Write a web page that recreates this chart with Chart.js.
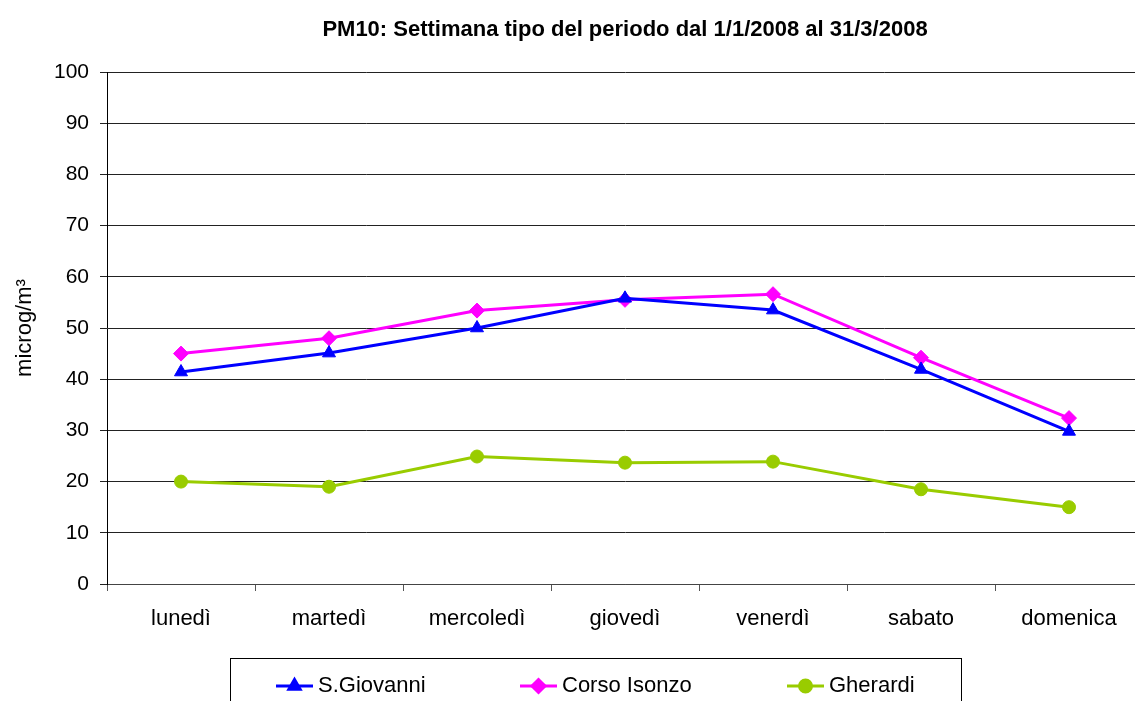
<!DOCTYPE html>
<html>
<head>
<meta charset="utf-8">
<script src="https://cdn.jsdelivr.net/npm/chart.js@4/dist/chart.umd.min.js"></script>
<style>
  html, body { margin: 0; padding: 0; background: #fff; overflow: hidden; }
  #wrap { width: 1160px; height: 745px; }
</style>
</head>
<body>
<div id="wrap"><canvas id="chart" width="1160" height="745"></canvas></div>
<script>
// data
const days = ["lunedì", "martedì", "mercoledì", "giovedì", "venerdì", "sabato", "domenica"];
const sGiovanni = [41.4, 45.1, 50.0, 55.8, 53.5, 41.9, 29.8];
const corsoIsonzo = [45.0, 48.0, 53.4, 55.5, 56.6, 44.2, 32.4];
const gherardi = [20.0, 19.0, 24.9, 23.7, 23.9, 18.5, 15.0];
const yTicks = [0, 10, 20, 30, 40, 50, 60, 70, 80, 90, 100];

const FONT = "'Liberation Sans', Arial, sans-serif";

// legend drawn inside a bordered box, like the spreadsheet original
const boxLegend = {
  id: "boxLegend",
  afterDraw(chart) {
    const ctx = chart.ctx;
    ctx.save();
    ctx.strokeStyle = "#000";
    ctx.lineWidth = 1;
    ctx.strokeRect(230.5, 658.5, 731, 80);
    const xs = [276, 520, 787];
    const y = 686;
    chart.data.datasets.forEach((ds, i) => {
      const x = xs[i];
      ctx.strokeStyle = ds.borderColor;
      ctx.lineWidth = 3;
      ctx.beginPath();
      ctx.moveTo(x, y);
      ctx.lineTo(x + 37, y);
      ctx.stroke();
      Chart.helpers.drawPoint(ctx, {
        pointStyle: ds.pointStyle,
        radius: ds.pointStyle === "circle" ? 6 : 6.5,
        rotation: 0,
        borderWidth: 1
      }, x + 18.5, y);
      ctx.fillStyle = ds.borderColor;
      ctx.fill();
      ctx.fillStyle = "#000";
      ctx.font = "22px " + FONT;
      ctx.textBaseline = "middle";
      ctx.fillText(ds.label, x + 42, y);
    });
    ctx.restore();
  }
};

new Chart(document.getElementById("chart"), {
  type: "line",
  data: {
    labels: days,
    datasets: [
      {
        label: "S.Giovanni",
        data: sGiovanni,
        borderColor: "#0000FF",
        backgroundColor: "#0000FF",
        pointStyle: "triangle",
        pointRadius: 7.5
      },
      {
        label: "Corso Isonzo",
        data: corsoIsonzo,
        borderColor: "#FF00FF",
        backgroundColor: "#FF00FF",
        pointStyle: "rectRot",
        pointRadius: 7.5
      },
      {
        label: "Gherardi",
        data: gherardi,
        borderColor: "#99CC00",
        backgroundColor: "#99CC00",
        pointStyle: "circle",
        pointRadius: 6.5
      }
    ]
  },
  options: {
    responsive: false,
    animation: false,
    devicePixelRatio: 1,
    layout: { padding: { left: 0, right: 17, top: 0, bottom: 101 } },
    elements: {
      line: { borderWidth: 3, tension: 0 },
      point: { borderWidth: 1, hoverRadius: 7 }
    },
    plugins: {
      legend: { display: false },
      tooltip: { enabled: false },
      title: {
        display: true,
        fullSize: false,
        text: "PM10: Settimana tipo del periodo dal 1/1/2008 al 31/3/2008",
        color: "#000",
        font: { family: FONT, size: 22, weight: "bold" },
        padding: { top: 17, bottom: 28.6 }
      }
    },
    scales: {
      x: {
        offset: true,
        afterFit: s => { s.height = 60; },
        grid: {
          offset: true,
          drawOnChartArea: false,
          tickLength: 7,
          color: "#555"
        },
        border: { color: "#444" },
        ticks: {
          color: "#000",
          padding: 15,
          maxRotation: 0,
          font: { family: FONT, size: 22 }
        }
      },
      y: {
        min: 0,
        max: 100,
        afterFit: s => { s.width = 107; },
        afterBuildTicks: s => { s.ticks = yTicks.map(v => ({ value: v })); },
        grid: { color: "#222", tickLength: 7 },
        border: { color: "#000" },
        ticks: {
          color: "#000",
          padding: 11,
          font: { family: FONT, size: 21 }
        },
        title: {
          display: true,
          text: "microg/m³",
          color: "#000",
          font: { family: FONT, size: 22 },
          padding: { top: 12, bottom: 4 }
        }
      }
    }
  },
  plugins: [boxLegend]
});
</script>
</body>
</html>
